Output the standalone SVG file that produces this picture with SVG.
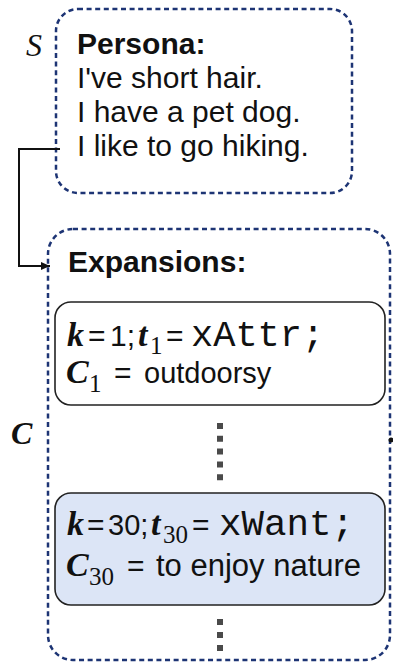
<svg xmlns="http://www.w3.org/2000/svg" width="393" height="662" viewBox="0 0 393 662">
<defs>
<style>
.dash{fill:none;stroke:#1d3474;stroke-width:2.5;stroke-dasharray:5 3.6}
.card{stroke:#222;stroke-width:1.6}
.sans{font-family:"Liberation Sans",Arial,sans-serif;fill:#111}
.bold{font-weight:bold}
.mv{font-family:"Liberation Serif","Times New Roman",serif;font-style:italic;font-weight:bold;fill:#111}
.sub{font-family:"Liberation Serif","Times New Roman",serif;fill:#111}
.mono{font-family:"Liberation Mono","Courier New",monospace;fill:#111}
.lab{font-family:"Liberation Serif","Times New Roman",serif;font-style:italic;fill:#111}
.dots{stroke:#4a4a4a;stroke-width:6;fill:none}
</style>
<marker id="arrow" markerWidth="10" markerHeight="10" refX="9" refY="5" orient="auto" markerUnits="userSpaceOnUse">
<path d="M0,1 L9,5 L0,9 Z" fill="#111"/>
</marker>
</defs>
<rect width="393" height="662" fill="#fff"/>

<g id="persona">
<rect class="dash" x="56" y="9" width="296" height="184" rx="22"/>
<text class="lab" x="26" y="56" font-size="32">S</text>
<text class="sans bold" x="77" y="54" font-size="30">Persona:</text>
<text class="sans" x="77" y="88" font-size="30">I've short hair.</text>
<text class="sans" x="77" y="122" font-size="30">I have a pet dog.</text>
<text class="sans" x="77" y="156" font-size="30">I like to go hiking.</text>
</g>

<g id="expansions">
<rect class="dash" x="48" y="229" width="342" height="431" rx="25"/>
<text class="lab" x="11" y="444" font-size="32" font-weight="bold">C</text>
<text class="sans bold" x="68" y="272" font-size="30">Expansions:</text>
<line class="dots" x1="220" y1="423" x2="220" y2="481" stroke-dasharray="6 6.8"/>
<line class="dots" x1="220" y1="619" x2="220" y2="651" stroke-dasharray="6 7"/>
<circle cx="391" cy="440" r="2.5" fill="#111"/>
</g>

<g id="expansion-1">
<rect class="card" x="55" y="302" width="330" height="103" rx="16" fill="#fff"/>
<text y="346"><tspan class="mv" x="67" font-size="34">k</tspan><tspan class="sans" x="88" font-size="30">=</tspan><tspan class="sans" x="110" font-size="30">1;</tspan><tspan class="mv" x="138" font-size="34">t</tspan><tspan class="sub" x="150" y="354" font-size="25">1</tspan><tspan class="sans" x="166" y="346" font-size="30">=</tspan><tspan class="mono" x="191" font-size="37">xAttr;</tspan></text>
<text y="383"><tspan class="mv" x="66" font-size="34">C</tspan><tspan class="sub" x="89" y="392" font-size="25">1</tspan><tspan class="sans" x="114" y="383" font-size="30">=</tspan><tspan class="sans" x="144" font-size="29">outdoorsy</tspan></text>
</g>

<g id="expansion-30">
<rect class="card" x="55" y="493" width="330" height="112" rx="16" fill="#dce5f6"/>
<text y="535"><tspan class="mv" x="67" font-size="34">k</tspan><tspan class="sans" x="87" font-size="30">=</tspan><tspan class="sans" x="108" font-size="29">30;</tspan><tspan class="mv" x="151" font-size="34">t</tspan><tspan class="sub" x="163" y="543" font-size="25">30</tspan><tspan class="sans" x="192" y="535" font-size="30">=</tspan><tspan class="mono" x="219" font-size="37.5">xWant;</tspan></text>
<text y="576"><tspan class="mv" x="66" font-size="34">C</tspan><tspan class="sub" x="89" y="585" font-size="25">30</tspan><tspan class="sans" x="127" y="576" font-size="30">=</tspan><tspan class="sans" x="156" font-size="31">to enjoy nature</tspan></text>
</g>

<g id="connectors">
<path d="M60,149 H19 V266 H50" fill="none" stroke="#111" stroke-width="2" marker-end="url(#arrow)"/>
</g>
</svg>
